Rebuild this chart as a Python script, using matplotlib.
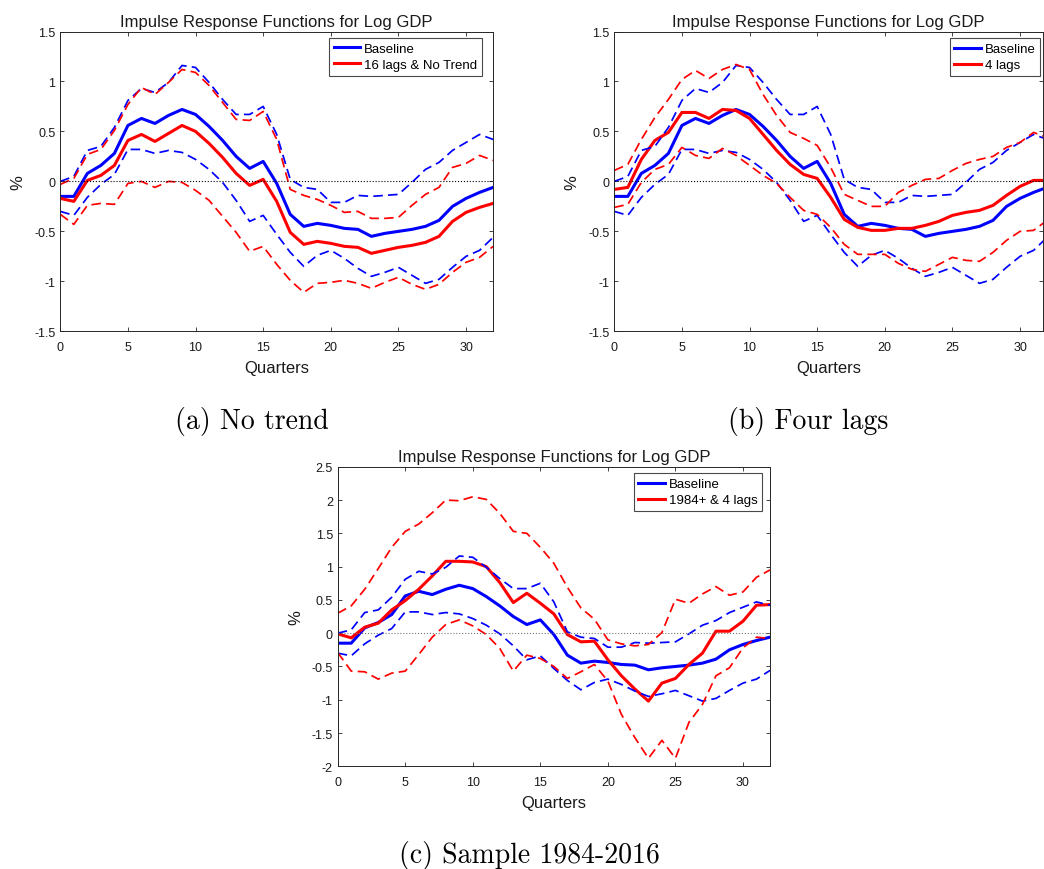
import numpy as np
import matplotlib
matplotlib.use('Agg')
import matplotlib.pyplot as plt

plt.rcParams['font.family'] = ['Liberation Sans', 'DejaVu Sans']
plt.rcParams['axes.unicode_minus'] = False

quarters = np.arange(33)

# baseline IRF and bands (same in every panel)
base = [-0.15, -0.15, 0.08, 0.16, 0.28, 0.56, 0.63, 0.58, 0.66, 0.72, 0.67, 0.55, 0.41, 0.25, 0.13, 0.20, -0.02,
        -0.33, -0.45, -0.42, -0.44, -0.47, -0.48, -0.55, -0.52, -0.50, -0.48, -0.45, -0.39, -0.25, -0.17, -0.11, -0.06]
base_hi = [0.0, 0.05, 0.31, 0.35, 0.54, 0.81, 0.93, 0.89, 0.99, 1.16, 1.14, 0.99, 0.82, 0.67, 0.67, 0.75, 0.47,
           0.02, -0.06, -0.08, -0.21, -0.21, -0.14, -0.15, -0.14, -0.13, -0.01, 0.12, 0.19, 0.31, 0.39, 0.47, 0.42]
base_lo = [-0.30, -0.34, -0.16, -0.03, 0.07, 0.32, 0.32, 0.28, 0.31, 0.29, 0.22, 0.12, -0.01, -0.19, -0.40, -0.34, -0.53,
           -0.71, -0.85, -0.74, -0.69, -0.77, -0.87, -0.95, -0.91, -0.86, -0.94, -1.02, -0.98, -0.86, -0.75, -0.69, -0.56]

# (a) 16 lags & no trend
a_mid = [-0.17, -0.20, 0.01, 0.06, 0.16, 0.41, 0.47, 0.40, 0.48, 0.56, 0.50, 0.38, 0.24, 0.08, -0.04, 0.02, -0.20,
         -0.51, -0.63, -0.60, -0.62, -0.65, -0.66, -0.72, -0.69, -0.66, -0.64, -0.61, -0.55, -0.40, -0.31, -0.26, -0.22]
a_hi = [-0.03, 0.03, 0.27, 0.32, 0.51, 0.77, 0.94, 0.87, 0.99, 1.12, 1.09, 0.96, 0.79, 0.62, 0.61, 0.70, 0.42,
        -0.08, -0.14, -0.18, -0.24, -0.31, -0.30, -0.37, -0.37, -0.36, -0.24, -0.13, -0.06, 0.14, 0.18, 0.26, 0.21]
a_lo = [-0.33, -0.43, -0.24, -0.22, -0.23, -0.02, 0.0, -0.06, 0.0, -0.01, -0.09, -0.19, -0.35, -0.51, -0.70, -0.65, -0.83,
        -0.99, -1.11, -1.02, -1.01, -0.99, -1.02, -1.07, -1.01, -0.96, -1.03, -1.08, -1.03, -0.91, -0.81, -0.76, -0.65]

# (b) 4 lags
b_mid = [-0.08, -0.06, 0.22, 0.41, 0.49, 0.69, 0.69, 0.63, 0.72, 0.71, 0.63, 0.47, 0.31, 0.17, 0.07, 0.03, -0.16,
         -0.38, -0.46, -0.49, -0.49, -0.47, -0.47, -0.44, -0.40, -0.34, -0.31, -0.29, -0.24, -0.14, -0.05, 0.01, 0.01]
b_hi = [0.11, 0.17, 0.42, 0.64, 0.82, 1.02, 1.11, 1.03, 1.12, 1.17, 1.12, 0.87, 0.66, 0.49, 0.43, 0.36, 0.14,
        -0.13, -0.19, -0.25, -0.25, -0.11, -0.04, 0.02, 0.03, 0.11, 0.18, 0.22, 0.25, 0.34, 0.39, 0.49, 0.44]
b_lo = [-0.26, -0.23, -0.01, 0.12, 0.17, 0.34, 0.26, 0.23, 0.33, 0.26, 0.16, 0.06, -0.02, -0.16, -0.29, -0.33, -0.46,
        -0.63, -0.73, -0.73, -0.73, -0.82, -0.88, -0.90, -0.83, -0.76, -0.79, -0.80, -0.71, -0.59, -0.50, -0.49, -0.39]

# (c) 1984+ & 4 lags
c_mid = [-0.01, -0.07, 0.09, 0.15, 0.35, 0.49, 0.66, 0.86, 1.08, 1.08, 1.07, 1.00, 0.76, 0.46, 0.60, 0.45, 0.29,
         -0.02, -0.13, -0.12, -0.40, -0.64, -0.84, -1.02, -0.75, -0.68, -0.47, -0.30, 0.03, 0.03, 0.18, 0.42, 0.43]
c_hi = [0.30, 0.41, 0.66, 0.97, 1.29, 1.53, 1.64, 1.81, 2.00, 1.99, 2.05, 2.01, 1.80, 1.53, 1.50, 1.29, 1.05,
        0.69, 0.38, 0.21, -0.10, -0.16, -0.19, -0.17, 0.01, 0.51, 0.45, 0.59, 0.70, 0.57, 0.62, 0.84, 0.95]
c_lo = [-0.29, -0.57, -0.58, -0.69, -0.60, -0.57, -0.32, -0.06, 0.13, 0.20, 0.11, -0.02, -0.23, -0.57, -0.33, -0.38, -0.50,
        -0.68, -0.58, -0.47, -0.72, -1.22, -1.57, -1.88, -1.61, -1.88, -1.34, -1.07, -0.64, -0.52, -0.22, -0.06, -0.08]

W, H = 1044, 870
fig = plt.figure(figsize=(W / 100, H / 100), dpi=100)


def add_ax(l, t, r, b):
    return fig.add_axes([l / W, 1 - b / H, (r - l) / W, (b - t) / H])


def irf_panel(ax, mid, hi, lo, label, ylim, yticks, xmax, legend_corner, zero_col):
    dash = (5.5, 3)
    ax.plot(quarters, base, color='b', lw=2.2, label='Baseline')
    ax.plot(quarters, mid, color='r', lw=2.2, label=label)
    ax.plot(quarters, base_hi, color='b', lw=1.25, ls='--', dashes=dash)
    ax.plot(quarters, base_lo, color='b', lw=1.25, ls='--', dashes=dash)
    ax.plot(quarters, hi, color='r', lw=1.25, ls='--', dashes=dash)
    ax.plot(quarters, lo, color='r', lw=1.25, ls='--', dashes=dash)
    ax.axhline(0, color=zero_col, lw=0.8, ls=':')
    ax.set_xlim(0, xmax)
    ax.set_ylim(*ylim)
    ax.set_xticks([0, 5, 10, 15, 20, 25, 30])
    ax.set_yticks(yticks)
    ax.set_yticklabels(['%g' % v for v in yticks])
    ax.tick_params(direction='in', top=True, right=True, length=3.2, width=0.6,
                   color='0.15', labelcolor='0.1', labelsize=9)
    ax.tick_params(axis='x', pad=7)
    ax.tick_params(axis='y', pad=3.5)
    for sp in ax.spines.values():
        sp.set_color('0.15')
        sp.set_linewidth(0.7)
    ax.set_title('Impulse Response Functions for Log GDP', fontsize=12, pad=4, color='0.1')
    ax.set_xlabel('Quarters', fontsize=12, labelpad=5, color='0.1')
    ax.set_ylabel('%', fontsize=12, labelpad=6, color='0.1')
    lx, ly = legend_corner
    leg = ax.legend(loc='upper right', bbox_to_anchor=(lx / W, 1 - ly / H), bbox_transform=fig.transFigure,
                    borderaxespad=0, fontsize=9.5, frameon=True, fancybox=False, handlelength=2.0,
                    handletextpad=0.3, borderpad=0.35, labelspacing=0.3)
    leg.get_frame().set_edgecolor('0.1')
    leg.get_frame().set_linewidth(0.8)


ax_a = add_ax(60.3, 32.5, 493.1, 332.3)
irf_panel(ax_a, a_mid, a_hi, a_lo, '16 lags & No Trend', (-1.5, 1.5), np.arange(-1.5, 1.51, 0.5),
          32, (482, 39), 'k')

ax_b = add_ax(614.3, 32.5, 1043, 332.3)
irf_panel(ax_b, b_mid, b_hi, b_lo, '4 lags', (-1.5, 1.5), np.arange(-1.5, 1.51, 0.5),
          32 * (1043 - 614.3) / 432.8, (1040, 39.3), 'k')

ax_c = add_ax(337.7, 467.8, 770, 767.3)
irf_panel(ax_c, c_mid, c_hi, c_lo, '1984+ & 4 lags', (-2, 2.5), np.arange(-2, 2.51, 0.5),
          32, (762, 474.3), '0.45')

cap = dict(family='cmr10', fontsize=20, ha='center', va='center')
fig.text(252 / W, 1 - 422 / H, '(a) No trend', **cap)
fig.text(808 / W, 1 - 422 / H, '(b) Four lags', **cap)
fig.text(529.6 / W, 1 - 856 / H, '(c) Sample 1984-2016', **cap)

fig.savefig('out.png', dpi=100)
